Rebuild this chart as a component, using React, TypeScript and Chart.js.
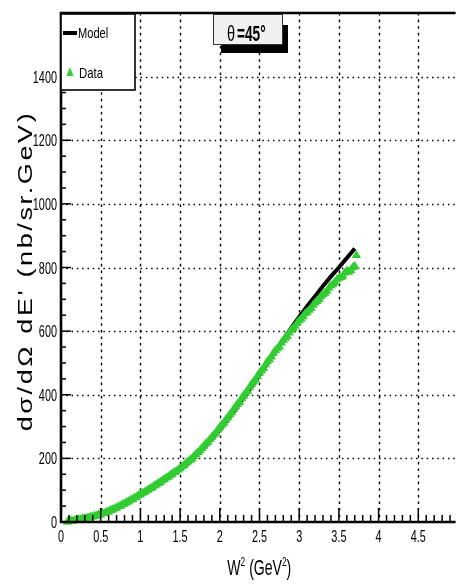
import React, { useEffect, useRef } from 'react';
import { Chart, registerables } from 'chart.js';

Chart.register(...registerables);

// Model curve: W^2 (GeV^2) vs cross section (nb/sr.GeV)
const MODEL_W2 = [0.1, 0.2, 0.3, 0.4, 0.5, 0.6, 0.7, 0.8, 0.9, 1.0, 1.1, 1.2, 1.3, 1.4, 1.5, 1.6, 1.7, 1.8, 1.9, 2.0, 2.1, 2.2, 2.3, 2.4, 2.5, 2.6, 2.7, 2.8, 2.9, 3.0, 3.1, 3.2, 3.3, 3.4, 3.5, 3.6, 3.7];
const MODEL_XS = [6, 10, 15, 21, 29, 38, 48, 59, 71, 84, 99, 115, 132, 148, 165, 185, 209, 234, 261, 290, 322, 355, 390, 425, 462, 500, 537, 573, 610, 645, 678, 710, 742, 772, 800, 830, 860];

// Measured points
const DATA_W2 = [
  0.08, 0.1, 0.125, 0.15, 0.175, 0.2, 0.225, 0.25, 0.275, 0.3, 0.325, 0.35, 0.375, 0.4, 0.425, 0.45, 0.475,
  0.5, 0.525, 0.55, 0.575, 0.6, 0.625, 0.65, 0.675, 0.7, 0.725, 0.75, 0.775, 0.8, 0.825, 0.85, 0.875, 0.9, 0.925, 0.95, 0.975,
  1.0, 1.025, 1.05, 1.075, 1.1, 1.125, 1.15, 1.175, 1.2, 1.225, 1.25, 1.275, 1.3, 1.325, 1.35, 1.375, 1.4, 1.425, 1.45, 1.475,
  1.5, 1.525, 1.55, 1.575, 1.6, 1.625, 1.65, 1.675, 1.7, 1.725, 1.75, 1.775, 1.8, 1.825, 1.85, 1.875, 1.9, 1.925, 1.95, 1.975,
  2.0, 2.025, 2.05, 2.075, 2.1, 2.125, 2.15, 2.175, 2.2, 2.225, 2.25, 2.275, 2.3, 2.325, 2.35, 2.375, 2.4, 2.425, 2.45, 2.475,
  2.5, 2.525, 2.55, 2.575, 2.6, 2.625, 2.65, 2.675, 2.7, 2.725, 2.75, 2.775, 2.8, 2.825, 2.85, 2.875, 2.9, 2.925, 2.95, 2.975,
  3.0, 3.025, 3.05, 3.075, 3.1, 3.125, 3.15, 3.175, 3.2, 3.225, 3.25, 3.275, 3.3, 3.325, 3.35, 3.375, 3.4, 3.425, 3.45, 3.475,
  3.5, 3.525, 3.55, 3.575, 3.6, 3.625, 3.65, 3.675, 3.7, 3.72,
];
const DATA_XS = [
  0, 2, 4, 3, 5, 6, 8, 8, 11, 10, 13, 13, 16, 16, 19, 19, 23,
  23, 27, 27, 31, 32, 37, 38, 42, 44, 49, 50, 55, 57, 62, 64, 69, 71, 76, 78, 84,
  86, 91, 93, 98, 101, 106, 108, 114, 117, 122, 125, 130, 134, 139, 141, 147, 151, 156, 158, 164,
  168, 174, 178, 185, 189, 195, 199, 207, 213, 219, 224, 232, 239, 246, 251, 260, 267, 274, 280, 290,
  297, 305, 311, 321, 328, 337, 344, 355, 363, 371, 377, 389, 397, 405, 412, 424, 433, 441, 447, 459,
  468, 476, 483, 495, 504, 511, 519, 531, 539, 545, 551, 563, 571, 578, 584, 595, 603, 609, 616, 626,
  633, 639, 646, 655, 660, 666, 672, 682, 689, 694, 700, 709, 715, 720, 726, 736, 743, 747, 753, 762,
  767, 769, 773, 783, 789, 786, 791, 800, 804, 838,
];

const X_TICKS = [0, 0.5, 1, 1.5, 2, 2.5, 3, 3.5, 4, 4.5];
const X_TICK_LABELS = ['0', '0.5', '1', '1.5', '2', '2.5', '3', '3.5', '4', '4.5'];
const Y_TICKS = [0, 200, 400, 600, 800, 1000, 1200, 1400];
const Y_TICK_LABELS = ['0', '200', '400', '600', '800', '1000', '1200', '1400'];

const X_MIN = 0;
const X_MAX = 4.97;
const Y_MIN = 0;
const Y_MAX = 1600;

const GREEN = '#33cc33';
const FONT = '"Liberation Sans", Arial, Helvetica, sans-serif';

function squeezedText(
  ctx: CanvasRenderingContext2D,
  text: string,
  x: number,
  y: number,
  sx: number,
  align: CanvasTextAlign,
  baseline: CanvasTextBaseline = 'alphabetic'
) {
  ctx.save();
  ctx.translate(x, y);
  ctx.scale(sx, 1);
  ctx.textAlign = align;
  ctx.textBaseline = baseline;
  ctx.fillText(text, 0, 0);
  ctx.restore();
}

const framePlugin = {
  id: 'rootFrame',
  beforeDatasetsDraw(chart: any) {
    const { ctx, chartArea } = chart;
    const xs = chart.scales.x;
    const ys = chart.scales.y;
    ctx.save();
    ctx.strokeStyle = '#000';
    ctx.lineWidth = 1.4;
    // vertical dashed grid
    ctx.setLineDash([2.6, 4]);
    X_TICKS.forEach((v) => {
      if (v === 0) return;
      const px = Math.round(xs.getPixelForValue(v)) + 0.5;
      ctx.beginPath();
      ctx.moveTo(px, chartArea.top);
      ctx.lineTo(px, chartArea.bottom);
      ctx.stroke();
    });
    // horizontal dotted grid
    ctx.setLineDash([1.5, 3.8]);
    Y_TICKS.forEach((v) => {
      if (v === 0) return;
      const py = Math.round(ys.getPixelForValue(v)) + 0.5;
      ctx.beginPath();
      ctx.moveTo(chartArea.left, py);
      ctx.lineTo(chartArea.right, py);
      ctx.stroke();
    });
    ctx.restore();
  },
  afterDatasetsDraw(chart: any) {
    const { ctx, chartArea } = chart;
    const xs = chart.scales.x;
    const ys = chart.scales.y;
    const { left, right, top, bottom } = chartArea;
    ctx.save();
    ctx.setLineDash([]);
    ctx.strokeStyle = '#000';
    ctx.fillStyle = '#000';

    // inner tick marks
    ctx.lineWidth = 1.5;
    for (let i = 0; i <= 49; i++) {
      const v = i / 10;
      if (v > X_MAX) break;
      const px = xs.getPixelForValue(v);
      const len = i % 5 === 0 ? 14 : 7;
      ctx.beginPath();
      ctx.moveTo(px, bottom);
      ctx.lineTo(px, bottom - len);
      ctx.stroke();
    }
    for (let v = 0; v <= Y_MAX; v += 50) {
      const py = ys.getPixelForValue(v);
      const len = v % 200 === 0 ? 10 : 5;
      ctx.beginPath();
      ctx.moveTo(left, py);
      ctx.lineTo(left + len, py);
      ctx.stroke();
    }

    // axis lines and top frame
    ctx.lineWidth = 2.6;
    ctx.beginPath();
    ctx.moveTo(left, top);
    ctx.lineTo(left, bottom);
    ctx.moveTo(left - 1.3, bottom);
    ctx.lineTo(right, bottom);
    ctx.stroke();
    ctx.lineWidth = 2.4;
    ctx.beginPath();
    ctx.moveTo(left - 1.3, top);
    ctx.lineTo(right, top);
    ctx.stroke();

    // tick labels
    ctx.font = `17px ${FONT}`;
    Y_TICKS.forEach((v, i) => {
      const py = ys.getPixelForValue(v);
      squeezedText(ctx, Y_TICK_LABELS[i], left - 4, py + 6, 0.64, 'right');
    });
    X_TICKS.forEach((v, i) => {
      const px = xs.getPixelForValue(v);
      squeezedText(ctx, X_TICK_LABELS[i], px, bottom + 20, 0.64, 'center');
    });

    // x axis title: W^2 (GeV^2)
    {
      const big = `22px ${FONT}`;
      const small = `13px ${FONT}`;
      const sx = 0.64;
      const parts: [string, string, number][] = [
        ['W', big, 0],
        ['2', small, -9],
        [' (GeV', big, 0],
        ['2', small, -9],
        [')', big, 0],
      ];
      let total = 0;
      parts.forEach(([t, f]) => {
        ctx.font = f;
        total += ctx.measureText(t).width * sx;
      });
      const cx = (left + right) / 2 + 1;
      let x = cx - total / 2;
      const baseY = 575;
      parts.forEach(([t, f, dy]) => {
        ctx.font = f;
        squeezedText(ctx, t, x, baseY + dy, sx, 'left');
        x += ctx.measureText(t).width * sx;
      });
    }

    // y axis title, rotated
    {
      const text = "dσ/dΩ dE' (nb/sr.GeV)";
      ctx.save();
      ctx.font = `27px ${FONT}`;
      const base = ctx.measureText(text).width;
      const target = 318;
      const spacing = Math.max(0, (target - base) / (text.length - 1));
      (ctx as any).letterSpacing = `${spacing.toFixed(2)}px`;
      ctx.translate(32, 271);
      ctx.rotate(-Math.PI / 2);
      ctx.scale(1, 0.76);
      ctx.textAlign = 'center';
      ctx.textBaseline = 'alphabetic';
      ctx.fillText(text, 0, 0);
      ctx.restore();
    }

    // legend box
    {
      const lx = 61, ly = 14, lw = 74, lh = 76;
      ctx.fillStyle = '#fff';
      ctx.fillRect(lx, ly, lw, lh);
      ctx.lineWidth = 1.6;
      ctx.strokeStyle = '#000';
      ctx.strokeRect(lx, ly, lw, lh);
      // Model entry
      ctx.lineWidth = 4;
      ctx.beginPath();
      ctx.moveTo(63, 33);
      ctx.lineTo(77, 33);
      ctx.stroke();
      ctx.fillStyle = '#000';
      ctx.font = `15px ${FONT}`;
      squeezedText(ctx, 'Model', 78, 38, 0.74, 'left');
      // Data entry
      ctx.fillStyle = GREEN;
      ctx.beginPath();
      ctx.moveTo(70, 67);
      ctx.lineTo(73.5, 76);
      ctx.lineTo(66.5, 76);
      ctx.closePath();
      ctx.fill();
      ctx.fillStyle = '#000';
      squeezedText(ctx, 'Data', 79, 78, 0.76, 'left');
    }

    // angle label box with shadow
    {
      ctx.fillStyle = '#000';
      ctx.fillRect(221, 25, 67, 28);
      ctx.fillStyle = '#f0f0f0';
      ctx.fillRect(213, 14, 70, 31);
      ctx.lineWidth = 1;
      ctx.strokeStyle = '#333';
      ctx.strokeRect(213.5, 14.5, 69, 30);
      ctx.fillStyle = '#000';
      ctx.font = `22px ${FONT}`;
      squeezedText(ctx, 'θ', 227, 41, 0.66, 'left');
      ctx.font = `bold 22px ${FONT}`;
      squeezedText(ctx, '=45°', 237, 41, 0.62, 'left');
    }

    ctx.restore();
  },
};

export default function App() {
  const canvasRef = useRef<HTMLCanvasElement | null>(null);

  useEffect(() => {
    document.body.style.margin = '0';
    const canvas = canvasRef.current;
    if (!canvas) return;
    const chart = new Chart(canvas, {
      type: 'scatter',
      data: {
        datasets: [
          {
            label: 'Model',
            data: MODEL_W2.map((x, i) => ({ x, y: MODEL_XS[i] })),
            showLine: true,
            borderColor: '#000',
            backgroundColor: '#000',
            borderWidth: 4,
            pointRadius: 0,
            tension: 0,
            order: 2,
          },
          {
            label: 'Data',
            data: DATA_W2.map((x, i) => ({ x, y: DATA_XS[i] })),
            showLine: false,
            pointStyle: 'triangle',
            pointRadius: 5.4,
            backgroundColor: GREEN,
            borderColor: GREEN,
            borderWidth: 0,
            order: 1,
            clip: false,
          } as any,
        ],
      },
      options: {
        animation: false,
        responsive: false,
        devicePixelRatio: 1,
        events: [],
        layout: { padding: { top: 13, left: 0, right: 0, bottom: 0 } },
        plugins: {
          legend: { display: false },
          tooltip: { enabled: false },
          title: { display: false },
        },
        scales: {
          x: {
            type: 'linear',
            min: X_MIN,
            max: X_MAX,
            grid: { display: false },
            border: { display: false },
            ticks: { display: false },
            afterFit: (s: any) => {
              s.height = 63;
            },
          },
          y: {
            type: 'linear',
            min: Y_MIN,
            max: Y_MAX,
            grid: { display: false },
            border: { display: false },
            ticks: { display: false },
            afterFit: (s: any) => {
              s.width = 61;
            },
          },
        },
      },
      plugins: [framePlugin],
    });
    return () => chart.destroy();
  }, []);

  return (
    <div style={{ position: 'fixed', left: 0, top: 0, width: 461, height: 585, background: '#fff' }}>
      <canvas ref={canvasRef} width={461} height={585} style={{ display: 'block' }} />
    </div>
  );
}
